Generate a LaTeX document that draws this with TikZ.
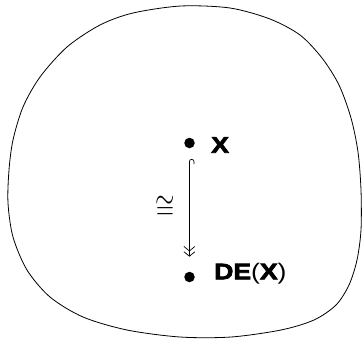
\documentclass[tikz,border=0pt]{standalone}
\usepackage{fontspec}
\setmainfont{Liberation Sans}
\newfontfamily\lblfont{Liberation Sans}[BoldFeatures={FakeBold=3}]
\usetikzlibrary{arrows.meta}
\tikzset{dbarb/.tip={Straight Barb[length=4.5pt,width=11pt,sep=0pt]Straight Barb[length=4.5pt,width=11pt]}}
\begin{document}
\begin{tikzpicture}[x=1pt,y=-1pt,
  lbl/.style={font=\lblfont\fontsize{22.5}{24}\selectfont, anchor=base west, inner sep=0pt, xscale=1.18},
  pt/.style={circle, fill=black, inner sep=0pt, minimum size=10.5pt}]
\useasboundingbox (0,0) rectangle (362,341);
\draw[line width=0.8pt] plot[smooth cycle, tension=0.5] coordinates {
 (181,6) (230,8) (270,19) (300,35) (322,58) (339,85) (351,118) (358,152)
 (361,190) (361,230) (357,260) (349,285) (336,305) (314,320) (281,330)
 (231,337) (180,337) (127,330) (83,317) (50,297) (27,270) (13,237) (8,203)
 (9,170) (13,140) (23,107) (40,77) (67,47) (100,25) (133,13)};
\node[pt] (a) at (189.5,143) {};
\node[pt] (b) at (189.5,277) {};
\node[lbl] (la) at (211,152.7) {\textbf{X}};
\node[lbl] (lb) at (214,279.3) {\textbf{DE}(\textbf{X})};
\coordinate (s) at (194,164);
\coordinate (t) at (189.4,256.7);
\draw[line width=0.7pt, -{dbarb}] (s) -- (194,161.6) arc (0:-180:2.3) -- (t);
\node[font=\fontsize{25}{27}\selectfont, inner sep=0pt] (c) at (165,207.5) {\scalebox{1}[1.35]{$\cong$}};
\end{tikzpicture}
\end{document}
